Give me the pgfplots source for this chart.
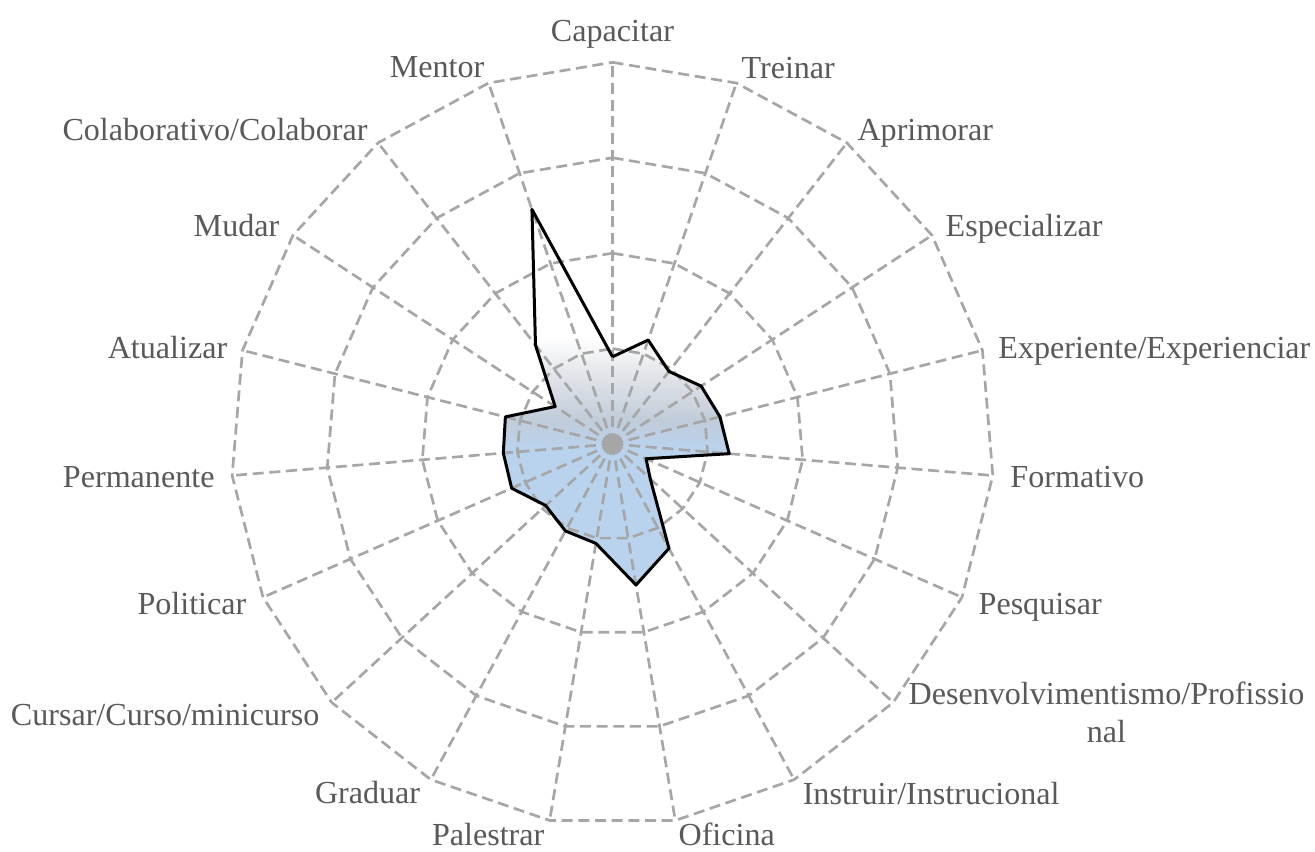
\documentclass[border=0pt]{standalone}
\usepackage{fontspec}
\setmainfont{Liberation Serif}
\usepackage{pgfplots}
\usepackage{pgfplotstable}
\usepgfplotslibrary{polar}
\pgfplotsset{compat=1.18}

\definecolor{gridgray}{HTML}{A6A6A6}
\definecolor{labelgray}{HTML}{595959}
\definecolor{fblue}{RGB}{185,211,238}
\definecolor{fmid}{RGB}{193,204,218}
\definecolor{fgray}{RGB}{226,229,233}
\pgfdeclareverticalshading{radarfill}{100bp}{color(0bp)=(fblue); color(43bp)=(fblue);
  color(47bp)=(fmid); color(53bp)=(fgray); color(58bp)=(white); color(100bp)=(white)}

% angle (deg, counter-clockwise from east), value; Capacitar at top, then clockwise
\pgfplotstableread{
angle    value
90       4.57
71.0526  5.76
52.1053  4.82
33.1579  5.55
14.2105  5.81
355.2632 6.14
336.3158 1.92
317.3684 2.69
298.4211 6.22
279.4737 7.49
260.5263 5.28
241.5789 5.18
222.6316 4.76
203.6842 5.77
184.7368 5.74
165.7895 5.79
146.8421 3.59
127.8947 6.57
108.9474 13.0
90       4.57
}\radardata

\begin{document}
\begin{tikzpicture}[
  font=\fontsize{9.63}{11.4}\selectfont,
  lbl/.style={text=labelgray, inner sep=0pt},
  gridline/.style={draw=gridgray, line width=0.8pt, dash pattern=on 3.3pt off 1.7pt},
]
\useasboundingbox (-183.75pt,-122.1pt) rectangle (210.75pt,133.2pt);
\begin{polaraxis}[
  at={(0pt,0pt)}, anchor=center,
  scale only axis, width=229pt, height=229pt,
  ymin=0, ymax=20, hide axis, clip=false,
]
% fill first, grid over it, outline on top
\addplot[draw=none, shade, shading=radarfill] table[x=angle, y=value] {\radardata};

\pgfplotsinvokeforeach{5,10,15,20}{
  \draw[gridline] (axis cs:90,#1) -- (axis cs:71.0526,#1) -- (axis cs:52.1053,#1)
    -- (axis cs:33.1579,#1) -- (axis cs:14.2105,#1) -- (axis cs:355.2632,#1)
    -- (axis cs:336.3158,#1) -- (axis cs:317.3684,#1) -- (axis cs:298.4211,#1)
    -- (axis cs:279.4737,#1) -- (axis cs:260.5263,#1) -- (axis cs:241.5789,#1)
    -- (axis cs:222.6316,#1) -- (axis cs:203.6842,#1) -- (axis cs:184.7368,#1)
    -- (axis cs:165.7895,#1) -- (axis cs:146.8421,#1) -- (axis cs:127.8947,#1)
    -- (axis cs:108.9474,#1) -- cycle;
}
\pgfplotsinvokeforeach{90,71.0526,52.1053,33.1579,14.2105,355.2632,336.3158,317.3684,
  298.4211,279.4737,260.5263,241.5789,222.6316,203.6842,184.7368,165.7895,146.8421,
  127.8947,108.9474}{
  \draw[gridline] (axis cs:#1,0) -- (axis cs:#1,20);
}
\fill[gridgray] (axis cs:0,0) circle[radius=3pt];

\addplot[black, line width=0.9pt, line join=round] table[x=angle, y=value] {\radardata};

\node[lbl, anchor=base, yshift=6.4pt] at (axis cs:90,20) {Capacitar};
\node[lbl, anchor=base west, xshift=1.35pt, yshift=1.5pt] at (axis cs:71.0526,20) {Treinar};
\node[lbl, anchor=base west, xshift=3pt, yshift=0.84pt] at (axis cs:52.1053,20) {Aprimorar};
\node[lbl, anchor=base west, xshift=3.9pt, yshift=-0.3pt] at (axis cs:33.1579,20) {Especializar};
\node[lbl, anchor=base west, xshift=4.6pt, yshift=-2.6pt] at (axis cs:14.2105,20) {Experiente/Experienciar};
\node[lbl, anchor=base west, xshift=5.1pt, yshift=-3.45pt] at (axis cs:355.2632,20) {Formativo};
\node[lbl, anchor=base west, xshift=4.8pt, yshift=-5.3pt] at (axis cs:336.3158,20) {Pesquisar};
\node[lbl, anchor=base west, xshift=4.4pt, yshift=-0.75pt] (d1) at (axis cs:317.3684,20) {Desenvolvimentismo/Profissio};
\node[lbl, anchor=base] at ([yshift=-11.4pt]d1.base) {nal};
\node[lbl, anchor=base west, xshift=2.4pt, yshift=-7.6pt] at (axis cs:298.4211,20) {Instruir/Instrucional};
\node[lbl, anchor=base west, xshift=0.8pt, yshift=-7.65pt] at (axis cs:279.4737,20) {Oficina};
\node[lbl, anchor=base east, xshift=-1.4pt, yshift=-7.65pt] at (axis cs:260.5263,20) {Palestrar};
\node[lbl, anchor=base east, xshift=-3pt, yshift=-7.3pt] at (axis cs:241.5789,20) {Graduar};
\node[lbl, anchor=base east, xshift=-3.5pt, yshift=-7.05pt] at (axis cs:222.6316,20) {Cursar/Curso/minicurso};
\node[lbl, anchor=base east, xshift=-4.8pt, yshift=-5.3pt] at (axis cs:203.6842,20) {Politicar};
\node[lbl, anchor=base east, xshift=-5.1pt, yshift=-3.45pt] at (axis cs:184.7368,20) {Permanente};
\node[lbl, anchor=base east, xshift=-4.4pt, yshift=-2.6pt] at (axis cs:165.7895,20) {Atualizar};
\node[lbl, anchor=base east, xshift=-3.9pt, yshift=-0.3pt] at (axis cs:146.8421,20) {Mudar};
\node[lbl, anchor=base east, xshift=-3pt, yshift=0.84pt] at (axis cs:127.8947,20) {Colaborativo/Colaborar};
\node[lbl, anchor=base east, xshift=-1.05pt, yshift=1.65pt] at (axis cs:108.9474,20) {Mentor};
\end{polaraxis}
\end{tikzpicture}
\end{document}
